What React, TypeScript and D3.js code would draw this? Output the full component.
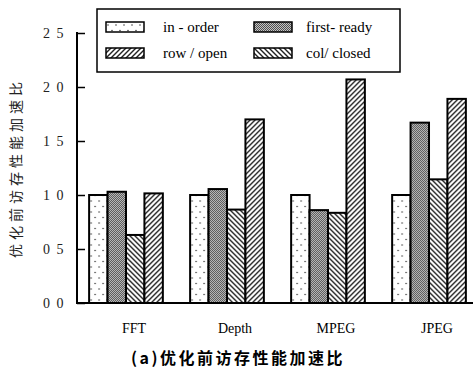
import React, { useEffect, useRef } from 'react';
import * as d3 from 'd3';

// categories, series, values
const categories = ['FFT', 'Depth', 'MPEG', 'JPEG'];
const seriesNames = ['in - order', 'first- ready', 'row / open', 'col/ closed'];
const inOrder = [1.0, 1.0, 1.0, 1.0];
const firstReady = [1.03, 1.055, 0.86, 1.67];
const rowOpen = [0.63, 0.865, 0.835, 1.145];
const colClosed = [1.015, 1.7, 2.07, 1.89];
const yTicks = [0, 0.5, 1.0, 1.5, 2.0, 2.5];
const yTickLabels = ['0 0', '0 5', '1 0', '1 5', '2 0', '2 5'];
const yTitle = '优化前访存性能加速比';
const caption = '(a)优化前访存性能加速比';

// fill pattern of each bar series, and the swatch the legend shows for it
const barPatterns = ['dots', 'checker', 'back', 'fwd'];
const legendPatterns = ['dots', 'checker', 'fwd', 'back'];

const W = 473, H = 369;
const serif = '"Liberation Serif", "Times New Roman", serif';
const cjk = '"Noto Sans CJK SC", "Liberation Serif", serif';

export default function App() {
    const ref = useRef<SVGSVGElement>(null);

    useEffect(() => {
        document.body.style.margin = '0';
        const svg = d3.select(ref.current);
        svg.selectAll('*').remove();

        const margin = { left: 77, right: -5, top: 33, bottom: 66 };
        const values = [inOrder, firstReady, rowOpen, colClosed];
        const rows = categories.map((c, i) => ({ cat: c, vals: values.map(v => v[i]) }));

        const x0 = d3.scaleBand().domain(categories)
            .range([margin.left, W - margin.right])
            .paddingInner(0.27).paddingOuter(0.12);
        const x1 = d3.scaleBand().domain(d3.range(4).map(String))
            .range([0, x0.bandwidth()]);
        const y = d3.scaleLinear().domain([0, 2.5]).range([H - margin.bottom, margin.top]);

        // patterns
        const defs = svg.append('defs');
        const dots = defs.append('pattern').attr('id', 'dots')
            .attr('patternUnits', 'userSpaceOnUse').attr('width', 8).attr('height', 11);
        dots.append('rect').attr('width', 8).attr('height', 11).attr('fill', '#fff');
        dots.append('circle').attr('cx', 2).attr('cy', 3).attr('r', 0.8).attr('fill', '#444');
        dots.append('circle').attr('cx', 6).attr('cy', 8.5).attr('r', 0.8).attr('fill', '#444');

        const chk = defs.append('pattern').attr('id', 'checker')
            .attr('patternUnits', 'userSpaceOnUse').attr('width', 2).attr('height', 2);
        chk.append('rect').attr('width', 2).attr('height', 2).attr('fill', '#c4c4c4');
        chk.append('rect').attr('width', 1).attr('height', 1).attr('fill', '#505050');
        chk.append('rect').attr('x', 1).attr('y', 1).attr('width', 1).attr('height', 1).attr('fill', '#505050');

        const hatch = (id: string, d: string) => {
            const p = defs.append('pattern').attr('id', id)
                .attr('patternUnits', 'userSpaceOnUse').attr('width', 5).attr('height', 5);
            p.append('rect').attr('width', 5).attr('height', 5).attr('fill', '#fff');
            p.append('path').attr('d', d).attr('stroke', '#222').attr('stroke-width', 1.4);
        };
        hatch('fwd', 'M0,5 L5,0 M-1,1 L1,-1 M4,6 L6,4');
        hatch('back', 'M0,0 L5,5 M-1,4 L1,6 M4,-1 L6,1');

        // bars
        svg.append('g').selectAll('g').data(rows).join('g')
            .attr('transform', d => `translate(${x0(d.cat)},0)`)
            .selectAll('rect').data(d => d.vals.map((v, k) => ({ v, k })))
            .join('rect')
            .attr('x', d => x1(String(d.k))!)
            .attr('width', x1.bandwidth())
            .attr('y', d => y(d.v))
            .attr('height', d => y(0) - y(d.v))
            .attr('fill', d => `url(#${barPatterns[d.k]})`)
            .attr('stroke', '#000').attr('stroke-width', 2);

        // y axis, ticks pointing inward
        const yAxis = svg.append('g').attr('transform', `translate(${margin.left},0)`)
            .call(d3.axisLeft(y).tickValues(yTicks).tickSize(-8).tickPadding(12)
                .tickFormat((d, i) => yTickLabels[i]));
        yAxis.attr('font-family', serif).attr('font-size', 14);
        yAxis.select('.domain').remove();
        yAxis.selectAll('line').attr('stroke', '#000').attr('stroke-width', 1.5);
        yAxis.selectAll('text').attr('fill', '#222').attr('letter-spacing', 1.5);
        svg.append('line').attr('x1', margin.left).attr('x2', margin.left)
            .attr('y1', y(2.5) - 1).attr('y2', y(0) + 1)
            .attr('stroke', '#000').attr('stroke-width', 2);
        svg.append('line').attr('x1', margin.left).attr('x2', W)
            .attr('y1', y(0)).attr('y2', y(0))
            .attr('stroke', '#000').attr('stroke-width', 2);

        // category labels
        svg.append('g').selectAll('text').data(categories).join('text')
            .attr('x', d => x0(d)! + x0.bandwidth() / 2 + 8)
            .attr('y', 333)
            .attr('text-anchor', 'middle')
            .attr('font-family', serif).attr('font-size', 14)
            .text(d => d);

        // y title
        svg.append('text')
            .attr('transform', `translate(21,${(y(0) + margin.top) / 2}) rotate(-90)`)
            .attr('text-anchor', 'middle')
            .attr('font-family', cjk).attr('font-size', 14).attr('letter-spacing', 4)
            .attr('fill', '#222')
            .text(yTitle);

        // legend
        const lg = svg.append('g');
        lg.append('rect').attr('x', 97).attr('y', 9).attr('width', 303).attr('height', 63)
            .attr('fill', '#fff').attr('stroke', '#000').attr('stroke-width', 1.5);
        const items = lg.selectAll('g.item').data(seriesNames).join('g')
            .attr('class', 'item')
            .attr('transform', (d, i) => `translate(${i % 2 === 0 ? 106 : 254},${i < 2 ? 22 : 48})`);
        items.append('rect').attr('width', 38).attr('height', 10)
            .attr('fill', (d, i) => `url(#${legendPatterns[i]})`)
            .attr('stroke', '#000').attr('stroke-width', 1.5);
        items.append('text').attr('x', (d, i) => (i % 2 === 0 ? 57 : 52)).attr('y', 10)
            .attr('font-family', serif).attr('font-size', 15)
            .text(d => d);

        // caption
        svg.append('text').attr('x', 238).attr('y', 364)
            .attr('text-anchor', 'middle')
            .attr('font-family', cjk).attr('font-weight', 'bold').attr('font-size', 16)
            .attr('letter-spacing', 2.5)
            .text(caption);
    }, []);

    return <svg ref={ref} width={W} height={H} style={{ display: 'block', background: '#fff' }} />;
}
